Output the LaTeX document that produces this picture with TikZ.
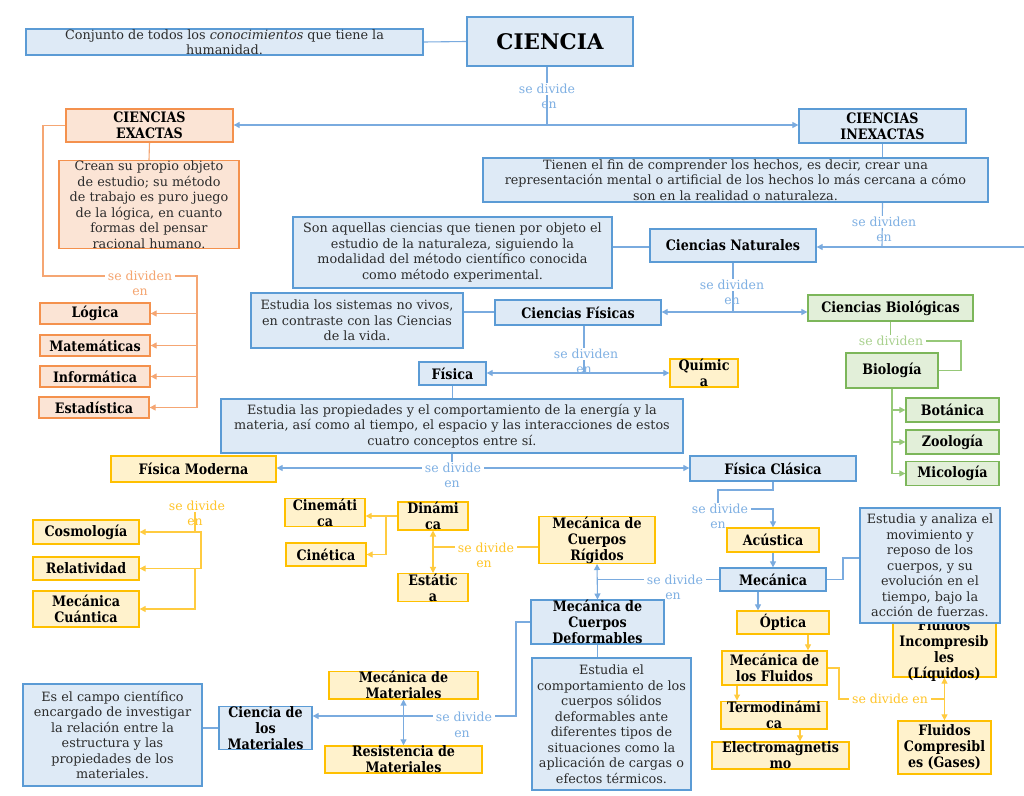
\documentclass[tikz,border=0pt]{standalone}
\usepackage{fontspec}
\setmainfont{DejaVu Serif}
\newfontfamily\titlefont{DejaVu Serif}[FakeStretch=0.88]
\usetikzlibrary{arrows.meta}
\definecolor{bfill}{HTML}{DEEAF6}
\definecolor{bline}{HTML}{5B9BD5}
\definecolor{bconn}{HTML}{7AABDF}
\definecolor{btext}{HTML}{7FB0E3}
\definecolor{ofill}{HTML}{FBE4D5}
\definecolor{oline}{HTML}{F4914D}
\definecolor{oconn}{HTML}{F5A673}
\definecolor{otext}{HTML}{F5A570}
\definecolor{yfill}{HTML}{FFF2CC}
\definecolor{yline}{HTML}{FFC000}
\definecolor{yconn}{HTML}{FFCB40}
\definecolor{ytext}{HTML}{FFC52A}
\definecolor{gfill}{HTML}{E2EFD9}
\definecolor{gline}{HTML}{7CB65A}
\definecolor{gconn}{HTML}{96C878}
\definecolor{gtext}{HTML}{A9D18E}
\definecolor{txt}{HTML}{2B2B2B}
\pgfdeclarelayer{back}
\pgfsetlayers{back,main}
\begin{document}
\begin{tikzpicture}[x=1pt,y=-1pt,
  box/.style={draw, line width=1.3pt, inner sep=0pt, align=center, anchor=center},
  desc/.style={box, font=\fontsize{12.8}{15.5}\selectfont, text=txt},
  ttl/.style={box, font=\titlefont\fontsize{14.4}{16}\selectfont\bfseries, text=black},
  ttltext/.style={inner sep=0pt, align=center, font=\titlefont\fontsize{14.4}{16}\selectfont\bfseries, text=black},
  bbox/.style={fill=bfill, draw=bline},
  obox/.style={fill=ofill, draw=oline},
  ybox/.style={fill=yfill, draw=yline},
  gbox/.style={fill=gfill, draw=gline},
  sz/.style 2 args={minimum width=#1pt, minimum height=#2pt},
  lab/.style={font=\fontsize{12.5}{14}\selectfont, fill=white, inner xsep=3pt, inner ysep=1pt},
  labn/.style={font=\fontsize{12.5}{14}\selectfont, inner sep=0pt},
  bc/.style={draw=bconn, line width=1.1pt},
  oc/.style={draw=oconn, line width=1.1pt},
  yc/.style={draw=yconn, line width=1.1pt},
  gc/.style={draw=gconn, line width=1.1pt},
  tip/.style={-{Triangle[length=6pt,width=6pt]}},
  tips/.style={{Triangle[length=6pt,width=6pt]}-{Triangle[length=6pt,width=6pt]}},
]
\useasboundingbox (0,0) rectangle (1024,795);
\begin{pgfonlayer}{back}
\fill[white] (0,0) rectangle (1024,795);
\end{pgfonlayer}

% ---------- nodes ----------
\node[desc,bbox,sz={397}{26}] (conj) at (224.5,42) {Conjunto de todos los \textit{conocimientos} que tiene la\\humanidad.};
\node[ttl,bbox,sz={166}{49},font=\fontsize{21.5}{25}\selectfont\bfseries] (ciencia) at (550,41.5) {CIENCIA};
\node[ttl,obox,sz={167}{33}] (exactas) at (149.5,125.5) {CIENCIAS\\EXACTAS};
\node[ttl,bbox,sz={167}{34}] (inexactas) at (882.5,126) {CIENCIAS\\INEXACTAS};
\node[desc,obox,sz={180}{85}] (crean) at (149,204.5) {Crean su propio objeto\\de estudio; su método\\de trabajo es puro juego\\de la lógica, en cuanto\\formas del pensar\\racional humano.};
\node[desc,bbox,sz={505}{44}] (tienen) at (735.5,180) {Tienen el fin de comprender los hechos, es decir, crear una\\representación mental o artificial de los hechos lo más cercana a cómo\\son en la realidad o naturaleza.};
\node[desc,bbox,sz={319}{71}] (son) at (452.5,252.5) {Son aquellas ciencias que tienen por objeto el\\estudio de la naturaleza, siguiendo la\\modalidad del método científico conocida\\como método experimental.};
\node[ttl,bbox,sz={166}{33}] (cnat) at (733,245.5) {Ciencias Naturales};
\node[desc,bbox,sz={212}{55}] (sist) at (357,320.5) {Estudia los sistemas no vivos,\\en contraste con las Ciencias\\de la vida.};
\node[ttl,bbox,sz={166}{25}] (cfis) at (578,312.5) {Ciencias Físicas};
\node[ttl,gbox,sz={165}{26}] (cbio) at (890.5,308) {Ciencias Biológicas};
\node[ttl,bbox,sz={67}{23}] (fisica) at (452.5,373.5) {Física};
\node[ttl,ybox,sz={68}{24}] (quimica) at (704,373) {Químic\\a};
\node[ttl,gbox,sz={92}{35}] (biologia) at (892,370.5) {Biología};
\node[ttl,gbox,sz={93}{24}] (botanica) at (952.5,410) {Botánica};
\node[ttl,gbox,sz={93}{24}] (zoologia) at (952.5,442) {Zoología};
\node[ttl,gbox,sz={93}{24}] (micologia) at (952.5,473.5) {Micología};
\node[ttl,obox,sz={110}{21}] (logica) at (95,313.5) {Lógica};
\node[ttl,obox,sz={110}{21}] (matem) at (95,345.5) {Matemáticas};
\node[ttl,obox,sz={110}{21}] (inform) at (95,376.5) {Informática};
\node[ttl,obox,sz={110}{21}] (estad) at (94,407.5) {Estadística};
\node[desc,bbox,sz={462}{54}] (prop) at (452,426) {Estudia las propiedades y el comportamiento de la energía y la\\materia, así como al tiempo, el espacio y las interacciones de estos\\cuatro conceptos entre sí.};
\node[ttl,ybox,sz={165}{26}] (fmod) at (193.5,469) {Física Moderna};
\node[ttl,bbox,sz={166}{25}] (fcla) at (773,468.5) {Física Clásica};
\node[ttl,ybox,sz={106}{24}] (cosmo) at (86,532) {Cosmología};
\node[ttl,ybox,sz={106}{23}] (relat) at (86,568.5) {Relatividad};
\node[ttl,ybox,sz={106}{36}] (mcuan) at (86,609) {Mecánica\\Cuántica};
\node[ttl,ybox,sz={80}{23}] (cinem) at (325,512.5) {Cinemáti\\ca};
\node[ttl,ybox,sz={80}{23}] (cinet) at (326,554.5) {Cinética};
\node[ttl,ybox,sz={70}{24}] (dinam) at (433,516) {Dinámi\\ca};
\node[ttl,ybox,sz={70}{23}] (estat) at (433,587.5) {Estátic\\a};
\node[ttl,ybox,sz={116}{36}] (rigid) at (597,540) {Mecánica de\\Cuerpos\\Rígidos};
\node[ttl,ybox,sz={92}{24}] (acust) at (773,540) {Acústica};
\node[ttl,bbox,sz={106}{23}] (mecan) at (773,579.5) {Mecánica};
\node[ttl,ybox,sz={103}{65}] (incomp) at (944.5,644.5) {};
\node[ttltext] (incompt) at (944,651) {Fluidos\\Incompresib\\les\\(Líquidos)};
\node[desc,bbox,sz={140}{115}] (analiza) at (930,565.5) {Estudia y analiza el\\movimiento y\\reposo de los\\cuerpos, y su\\evolución en el\\tiempo, bajo la\\acción de fuerzas.};
\node[ttl,bbox,sz={133}{36}] (deform) at (597.5,622) {Mecánica de\\Cuerpos\\Deformables};
\node[ttl,ybox,sz={92}{23}] (optica) at (783,622.5) {Óptica};
\node[ttl,ybox,sz={105}{34}] (mflu) at (774.5,668) {Mecánica de\\los Fluidos};
\node[ttl,ybox,sz={106}{24}] (termo) at (774,715) {Termodinámi\\ca};
\node[ttl,ybox,sz={137}{23}] (electro) at (780.5,755.5) {Electromagnetis\\mo};
\node[ttl,ybox,sz={93}{53}] (comp) at (944.5,747.5) {Fluidos\\Compresibl\\es (Gases)};
\node[desc,bbox,sz={159}{132}] (estel) at (611.5,724) {Estudia el\\comportamiento de los\\cuerpos sólidos\\deformables ante\\diferentes tipos de\\situaciones como la\\aplicación de cargas o\\efectos térmicos.};
\node[ttl,ybox,sz={149}{24}] (mmat) at (403.5,685) {Mecánica de\\Materiales};
\node[ttl,ybox,sz={157}{25}] (resist) at (403.5,759.5) {Resistencia de\\Materiales};
\node[ttl,bbox,sz={93}{38}] (cmat) at (265.5,728) {Ciencia de\\los\\Materiales};
\node[desc,bbox,sz={179}{102}] (campo) at (112.5,735) {Es el campo científico\\encargado de investigar\\la relación entre la\\estructura y las\\propiedades de los\\materiales.};

% ---------- labels ----------
\node[lab,text=btext] (l1) at (547,89) {se divide};
\node[labn,text=btext] (l1b) at (549,105) {en};
\node[lab,text=otext] (l2) at (140,276) {se dividen};
\node[labn,text=otext] (l2b) at (140,292) {en};
\node[lab,text=btext] (l3) at (884,222) {se dividen};
\node[labn,text=btext] (l3b) at (884,238) {en};
\node[lab,text=btext] (l4) at (732,285) {se dividen};
\node[labn,text=btext] (l4b) at (732,301) {en};
\node[lab,text=btext] (l5) at (586,354) {se dividen};
\node[labn,text=btext] (l5b) at (584,370) {en};
\node[lab,text=gtext] (l6) at (891,341) {se dividen};
\node[lab,text=btext] (l7) at (453,468) {se divide};
\node[labn,text=btext] (l7b) at (452,484) {en};
\node[lab,text=ytext] (l8) at (197,506) {se divide};
\node[labn,text=ytext] (l8b) at (195,522) {en};
\node[lab,text=ytext] (l9) at (486,548) {se divide};
\node[labn,text=ytext] (l9b) at (484,564) {en};
\node[lab,text=btext] (l10) at (720,509) {se divide};
\node[labn,text=btext] (l10b) at (718,525) {en};
\node[lab,text=btext] (l11) at (675,580) {se divide};
\node[labn,text=btext] (l11b) at (673,596) {en};
\node[lab,text=btext] (l12) at (464,717) {se divide};
\node[labn,text=btext] (l12b) at (462,734) {en};
\node[lab,text=ytext] (l13) at (890,699) {se divide en};

% ---------- connectors ----------
\begin{pgfonlayer}{back}
\draw[bc] (conj.east) -- (ciencia.west);
\coordinate (j1) at (547,125);
\draw[bc] (ciencia.south -| j1) -- (j1);
\draw[bc,tip] (j1) -- (j1 -| exactas.east);
\draw[bc,tip] (j1) -- (j1 -| inexactas.west);
% orange
\draw[oc] (exactas.south) -- (crean.north);
\coordinate (o0) at (43,276);
\coordinate (o1) at (197,276);
\draw[oc] (exactas.west) -| (o0) -- (o1) -- (o1 |- estad.east);
\draw[oc,tip] (o1 |- logica.east) -- (logica.east);
\draw[oc,tip] (o1 |- matem.east) -- (matem.east);
\draw[oc,tip] (o1 |- inform.east) -- (inform.east);
\draw[oc,tip] (o1 |- estad.east) -- (estad.east);
% inexactas
\draw[bc] (inexactas.south) -- (inexactas.south |- tienen.north);
\coordinate (j3) at (882,247);
\coordinate (edge) at (1024,247);
\draw[bc] (inexactas.south |- tienen.south) -- (j3);
\draw[bc,tip] (edge) -- (edge -| cnat.east);
\draw[bc] (son.east |- edge) -- (cnat.west |- edge);
\coordinate (j4) at (733,312);
\draw[bc] (cnat.south) -- (j4);
\draw[bc,tip] (j4) -- (j4 -| cfis.east);
\draw[bc,tip] (j4) -- (j4 -| cbio.west);
\draw[bc] (sist.east |- j4) -- (cfis.west |- j4);
\coordinate (j5) at (584,373);
\draw[bc] (cfis.south -| j5) -- (j5);
\draw[bc,tip] (j5) -- (j5 -| fisica.east);
\draw[bc,tip] (j5) -- (j5 -| quimica.west);
% green
\coordinate (g1) at (961,341);
\draw[gc] (cbio.south) -- (cbio.south |- g1) -- (g1) -- (g1 |- biologia.east) -- (biologia.east);
\draw[gc,tip] (biologia.south) |- (botanica.west);
\draw[gc,tip] (biologia.south) |- (zoologia.west);
\draw[gc,tip] (biologia.south) |- (micologia.west);
% fisica
\draw[bc] (fisica.south) -- (fisica.south |- prop.north);
\coordinate (j7) at (452,468);
\draw[bc] (prop.south -| j7) -- (j7);
\draw[bc,tip] (j7) -- (j7 -| fmod.east);
\draw[bc,tip] (j7) -- (j7 -| fcla.west);
% moderna
\coordinate (y8) at (195,532);
\coordinate (y8r) at (201,532);
\draw[yc] (y8 |- l8.south) -- (y8);
\draw[yc,tip] (y8) -- (y8 -| cosmo.east);
\draw[yc,tip] (y8) -- (y8r) |- (relat.east);
\draw[yc,tip] (y8 |- relat.east) |- (mcuan.east);
% dinamica
\coordinate (yd) at (386,516);
\draw[yc,tip] (dinam.west |- yd) -- (yd -| cinem.east);
\draw[yc,tip] (yd) |- (cinet.east);
\draw[yc,tips] (dinam.south) -- (estat.north);
\coordinate (y9) at (433,547);
\draw[yc] (y9) -- (y9 -| rigid.west);
% mecanica
\draw[bc,tips] (rigid.south) -- (deform.north);
\draw[bc] (mecan.west) -- (mecan.west -| rigid.south);
\coordinate (ja) at (843,558);
\draw[bc] (mecan.east) -| (ja) -- (ja -| analiza.west);
\coordinate (j10) at (718,490);
\draw[bc] (fcla.south) |- (j10) -- (j10 |- l10.north);
\draw[bc,tip] (l10.east) -| (acust.north);
\draw[bc,tip] (acust.south) -- (mecan.north);
\draw[bc,tip] ([xshift=-15pt]mecan.south) -- ([xshift=-15pt]mecan.south |- optica.north);
\draw[yc,tip] ([xshift=25pt]optica.south) -- ([xshift=25pt]optica.south |- mflu.north);
\draw[yc,tip] ([xshift=-37.5pt]mflu.south) -- ([xshift=-37.5pt]mflu.south |- termo.north);
\draw[yc,tip] ([xshift=26pt]termo.south) -- ([xshift=26pt]termo.south |- electro.north);
\coordinate (y13) at (839,699);
\draw[yc] (mflu.east) -| (y13) -- (y13 -| incomp.south);
\draw[yc,tips] (incomp.south) -- (comp.north);
% deformables
\coordinate (j12) at (516,716);
\draw[bc,tip] (deform.west) -| (j12) -- (j12 -| cmat.east);
\draw[bc,tips] (mmat.south) -- (resist.north);
\draw[bc] (campo.east |- cmat.west) -- (cmat.west);
\draw[bc] (deform.south) -- (deform.south |- estel.north);
\end{pgfonlayer}
\end{tikzpicture}
\end{document}
